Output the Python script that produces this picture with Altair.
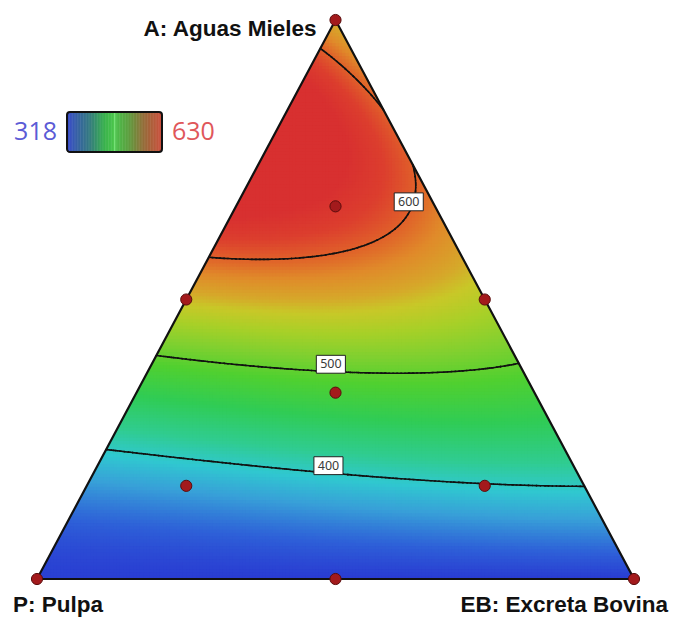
import numpy as np
import pandas as pd
import altair as alt

alt.data_transformers.disable_max_rows()

# Measured blends (fractions of A: Aguas Mieles, P: Pulpa, EB: Excreta Bovina),
# the response at each blend and the weight it carries in the fit
# (points traced on the 400/500/600 iso-lines count more).
read_A = [0, 0, 0, 0, 0,
          0.1, 0.1, 0.1,
          0.229, 0.2075, 0.188, 0.177, 0.168, 0.165,
          0.333,
          0.41, 0.392, 0.376, 0.377, 0.388,
          0.5, 0.5,
          0.562, 0.562, 0.576, 0.624, 0.683, 0.732,
          0.952, 0.889, 0.825,
          0.65, 0.78, 1.0,
          0.6655, 0.75, 0.70,
          0.70, 0.85, 0.90]
read_P = [1, 0.75, 0.5, 0.25, 0,
          0.9, 0.45, 0.0,
          0.768, 0.623, 0.437, 0.303, 0.169, 0.003,
          0.333,
          0.59, 0.447, 0.304, 0.153, 0.002,
          0.5, 0.0,
          0.438, 0.312, 0.193, 0.080, 0.025, 0.002,
          0.048, 0.019, 0.0,
          0.0, 0.0, 0.0,
          0.165, 0.15, 0.25,
          0.30, 0.15, 0.05]
read_EB = [0, 0.25, 0.5, 0.75, 1,
           0.0, 0.45, 0.9,
           0.003, 0.1695, 0.375, 0.52, 0.663, 0.832,
           0.334,
           0.0, 0.161, 0.32, 0.47, 0.61,
           0.0, 0.5,
           0.0, 0.126, 0.231, 0.296, 0.292, 0.266,
           0.0, 0.092, 0.175,
           0.35, 0.22, 0.0,
           0.17, 0.10, 0.05,
           0.0, 0.0, 0.05]
read_y = [322, 320, 318, 320, 322,
          352, 362, 372,
          400, 400, 400, 400, 400, 400,
          482,
          500, 500, 500, 500, 500,
          574, 552,
          600, 600, 600, 600, 600, 600,
          600, 600, 600,
          592, 601, 575,
          628, 630, 628,
          626, 622, 594]
read_w = [1, 1, 1, 1, 1,
          1, 1, 1,
          10, 10, 10, 10, 10, 10,
          0.5,
          10, 10, 10, 10, 10,
          1, 1,
          10, 10, 10, 10, 10, 10,
          10, 10, 10,
          1, 3, 1,
          1, 1, 1,
          1, 1, 1]

# Augmented simplex-centroid design runs
design_A = [1, 0, 0, 0.5, 0.5, 0, 1 / 3, 2 / 3, 1 / 6, 1 / 6]
design_P = [0, 1, 0, 0.5, 0, 0.5, 1 / 3, 1 / 6, 2 / 3, 1 / 6]
design_EB = [0, 0, 1, 0, 0.5, 0.5, 1 / 3, 1 / 6, 1 / 6, 2 / 3]

contour_levels = [400, 500, 600]
resp_min, resp_max = 318, 630

# Colour ramp of the response surface
surf_stops = [318, 345, 372, 395, 420, 455, 490, 515, 537, 555, 567, 585, 600, 615, 630]
surf_colors = ["#2830d0", "#2e60d8", "#38a0d8", "#30c8d0", "#30cc90", "#30cc55",
               "#50d030", "#80d030", "#a8d028", "#c8c828", "#d6a82a", "#e08a2a",
               "#e0602a", "#dc3e2e", "#d83030"]
# Colour ramp of the colour bar
bar_stops = [318, 350, 390, 440, 472, 474, 477, 520, 570, 630]
bar_colors = ["#2236c4", "#1f4f9a", "#1d6a72", "#22a838", "#36c036", "#7cf07c",
              "#36b836", "#4a9228", "#8a5a22", "#c83a28"]


def scheffe_terms(a, p, e):
    a, p, e = np.asarray(a, float), np.asarray(p, float), np.asarray(e, float)
    return np.column_stack([
        a, p, e,
        a * p, a * e, p * e,
        a * p * (a - p), a * e * (a - e), p * e * (p - e),
        a * p * (a - p) ** 2, a * e * (a - e) ** 2, p * e * (p - e) ** 2,
        a * a * p * e, a * p * p * e, a * p * e * e,
    ])


w = np.sqrt(np.asarray(read_w, float))
coef, *_ = np.linalg.lstsq(scheffe_terms(read_A, read_P, read_EB) * w[:, None],
                           np.asarray(read_y, float) * w, rcond=None)


def response(a, p, e):
    shape = np.shape(a)
    out = scheffe_terms(np.ravel(a), np.ravel(p), np.ravel(e)) @ coef
    return out.reshape(shape)


def to_xy(a, e):
    # ternary -> plot coordinates (apex A on top, P left, EB right)
    return np.asarray(e) + 0.5 * np.asarray(a), np.asarray(a)


# ---- filled surface on a fine grid of cells ----
NX, NY = 180, 170
cx = (np.arange(NX) + 0.5) / NX
cy = (np.arange(NY) + 0.5) / NY
XX, YY = np.meshgrid(cx, cy)
gA = YY
gEB = XX - 0.5 * YY
gP = 1 - gA - gEB
keep = (gEB >= -1.0 / NX) & (gP >= -1.0 / NX)
gA, gEB, XX, YY = gA[keep], gEB[keep], XX[keep], YY[keep]
gEBc = np.clip(gEB, 0, 1 - gA)
gPc = 1 - gA - gEBc
gV = np.clip(response(gA, gPc, gEBc), resp_min, resp_max)
cells = pd.DataFrame({
    "x0": np.clip(XX - 0.5 / NX, 0, 1).round(5),
    "x1": np.clip(XX + 0.8 / NX, 0, 1).round(5),
    "y0": np.clip(YY - 0.5 / NY, 0, 1).round(5),
    "y1": np.clip(YY + 0.8 / NY, 0, 1).round(5),
    "v": gV.round(1),
})

# ---- contour segments on a triangular mesh ----
N = 150
V = np.full((N + 1, N + 1), np.nan)
ii, jj = np.meshgrid(np.arange(N + 1), np.arange(N + 1), indexing="ij")
ok = ii + jj <= N
V[ok] = response(ii[ok] / N, 1 - (ii[ok] + jj[ok]) / N, jj[ok] / N)

tris = []
for i in range(N):
    for j in range(N - i):
        tris.append(((i, j), (i + 1, j), (i, j + 1)))
        if i + j <= N - 2:
            tris.append(((i + 1, j), (i + 1, j + 1), (i, j + 1)))

segs = []
for lev in contour_levels:
    for t in tris:
        vals = [V[p] - lev for p in t]
        pts = []
        for a_, b_ in ((0, 1), (1, 2), (2, 0)):
            va, vb = vals[a_], vals[b_]
            if (va >= 0) != (vb >= 0):
                f = va / (va - vb)
                pa, pb = t[a_], t[b_]
                pts.append((pa[0] + f * (pb[0] - pa[0]), pa[1] + f * (pb[1] - pa[1])))
        if len(pts) == 2:
            (a1, e1), (a2, e2) = pts
            x1, y1 = to_xy(a1 / N, e1 / N)
            x2, y2 = to_xy(a2 / N, e2 / N)
            segs.append((lev, float(x1), float(y1), float(x2), float(y2)))
seg_df = pd.DataFrame(segs, columns=["level", "x", "y", "x2", "y2"])

# label spots on each contour
lab_rows = []
for lev in contour_levels:
    s = seg_df[seg_df.level == lev]
    if lev == 600:
        s = s[(s.y - 0.667).abs() < 0.012]
        r = s.loc[s.x.idxmax()]
        lab_rows.append((str(lev), r.x - 0.008, r.y))
    else:
        r = s.loc[(s.x - 0.49).abs().idxmin()]
        lab_rows.append((str(lev), r.x, r.y + 0.013))
lab_df = pd.DataFrame(lab_rows, columns=["t", "x", "y"])

dx_, dy_ = to_xy(design_A, design_EB)
design_df = pd.DataFrame({"x": dx_, "y": dy_})

outline_df = pd.DataFrame({"x": [0, 0.5, 1, 0], "y": [0, 1, 0, 0], "o": [0, 1, 2, 3]})
mask_l = pd.DataFrame({"x": [0, 0.5], "y": [0, 1], "y2": [1, 1]})
mask_r = pd.DataFrame({"x": [0.5, 1], "y": [1, 0], "y2": [1, 1]})

W, H = 597, 559
xs = alt.Scale(domain=[0, 1], nice=False, zero=False)
ys = alt.Scale(domain=[0, 1], nice=False, zero=False)

surface = alt.Chart(cells).mark_rect(strokeWidth=0).encode(
    x=alt.X("x0:Q", scale=xs, axis=None), x2="x1",
    y=alt.Y("y0:Q", scale=ys, axis=None), y2="y1",
    color=alt.Color("v:Q", scale=alt.Scale(domain=surf_stops, range=surf_colors,
                                           interpolate="rgb"), legend=None),
)
mask_left = alt.Chart(mask_l).mark_area(color="white").encode(
    x=alt.X("x:Q", scale=xs), y=alt.Y("y:Q", scale=ys), y2="y2")
mask_right = alt.Chart(mask_r).mark_area(color="white").encode(
    x=alt.X("x:Q", scale=xs), y=alt.Y("y:Q", scale=ys), y2="y2")
contours = alt.Chart(seg_df).mark_rule(color="#111", strokeWidth=1.6, strokeCap="round").encode(
    x=alt.X("x:Q", scale=xs), x2="x2", y=alt.Y("y:Q", scale=ys), y2="y2")
outline = alt.Chart(outline_df).mark_line(color="#111", strokeWidth=2.2, strokeJoin="miter").encode(
    x=alt.X("x:Q", scale=xs), y=alt.Y("y:Q", scale=ys), order="o:Q")
box_shape = "M-1.3,-0.8L1.3,-0.8L1.3,0.8L-1.3,0.8Z"
lab_box = alt.Chart(lab_df).mark_point(shape=box_shape, size=500, filled=True, fill="white",
                                       stroke="#222", strokeWidth=1, opacity=1).encode(
    x=alt.X("x:Q", scale=xs), y=alt.Y("y:Q", scale=ys))
lab_txt = alt.Chart(lab_df).mark_text(font="Noto Sans", fontSize=12.5, color="#3a3a3a",
                                      baseline="middle", align="center").encode(
    x=alt.X("x:Q", scale=xs), y=alt.Y("y:Q", scale=ys), text="t:N")
points = alt.Chart(design_df).mark_circle(size=125, color="#a31a1c", opacity=1,
                                          stroke="#5a0c0c", strokeWidth=1).encode(
    x=alt.X("x:Q", scale=xs), y=alt.Y("y:Q", scale=ys))

vl_font = dict(font="Liberation Sans", fontWeight="bold", fontSize=22.5, color="#111", baseline="middle")
lab_a = alt.Chart(pd.DataFrame({"x": [0.5], "y": [1.0], "t": ["A: Aguas Mieles"]})).mark_text(
    align="right", dx=-19, dy=9, **vl_font).encode(
    x=alt.X("x:Q", scale=xs), y=alt.Y("y:Q", scale=ys), text="t:N")
lab_p = alt.Chart(pd.DataFrame({"x": [0.0], "y": [0.0], "t": ["P: Pulpa"]})).mark_text(
    align="left", dx=-24, dy=26, **vl_font).encode(
    x=alt.X("x:Q", scale=xs), y=alt.Y("y:Q", scale=ys), text="t:N")
lab_eb = alt.Chart(pd.DataFrame({"x": [1.0], "y": [0.0], "t": ["EB: Excreta Bovina"]})).mark_text(
    align="right", dx=34, dy=26, **vl_font).encode(
    x=alt.X("x:Q", scale=xs), y=alt.Y("y:Q", scale=ys), text="t:N")

main = alt.layer(surface, mask_left, mask_right, contours, outline, lab_box, lab_txt,
                 points, lab_a, lab_p, lab_eb)

# ---- colour bar ----
lv = np.linspace(resp_min, resp_max, 157)
bar_df = pd.DataFrame({"v": lv[:-1], "v2": np.minimum(lv[1:] + 0.6, resp_max)})
bar = alt.Chart(bar_df).mark_rect(strokeWidth=0).encode(
    x=alt.X("v:Q", scale=alt.Scale(domain=[resp_min, resp_max], range=[30, 125]), axis=None),
    x2="v2",
    y=alt.value(92), y2=alt.value(132),
    color=alt.Color("v:Q", scale=alt.Scale(domain=bar_stops, range=bar_colors,
                                           interpolate="rgb"), legend=None),
)
one = pd.DataFrame({"k": [0]})
bar_frame = alt.Chart(one).mark_rect(fillOpacity=0, stroke="#111", strokeWidth=2,
                                     cornerRadius=3).encode(
    x=alt.value(30), x2=alt.value(125), y=alt.value(92), y2=alt.value(132))
lo_txt = alt.Chart(one).mark_text(text=str(resp_min), font="Open Sans", fontSize=25,
                                  color="#5b5bd6", align="right", baseline="middle").encode(
    x=alt.value(20), y=alt.value(112))
hi_txt = alt.Chart(one).mark_text(text=str(resp_max), font="Open Sans", fontSize=25,
                                  color="#e0575a", align="left", baseline="middle").encode(
    x=alt.value(135), y=alt.value(112))
colorbar = alt.layer(bar, bar_frame, lo_txt, hi_txt)

chart = alt.layer(main, colorbar).resolve_scale(
    x="independent", y="independent", color="independent"
).properties(
    width=W, height=H,
    padding={"left": 37, "top": 20, "right": 39, "bottom": 38},
    autosize=alt.AutoSizeParams(type="none"),
).configure_view(stroke=None)

chart.save("out.html", embed_options={"renderer": "svg", "actions": False})
